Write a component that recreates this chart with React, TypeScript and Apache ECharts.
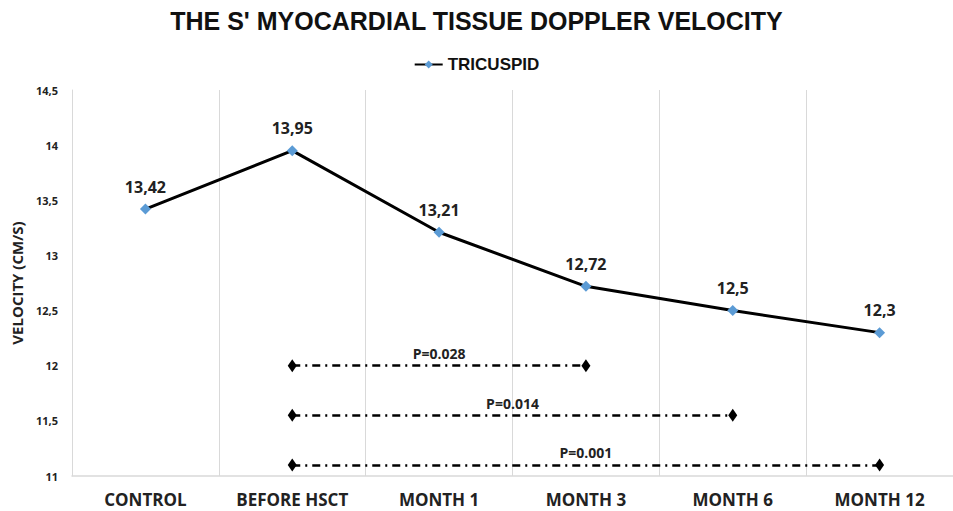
import React, { useEffect, useRef } from "react";
import * as echarts from "echarts";

const categories = ["CONTROL", "BEFORE HSCT", "MONTH 1", "MONTH 3", "MONTH 6", "MONTH 12"];
const tricuspid = [13.42, 13.95, 13.21, 12.72, 12.5, 12.3];
const pFrom = ["BEFORE HSCT", "BEFORE HSCT", "BEFORE HSCT"];
const pTo = ["MONTH 3", "MONTH 6", "MONTH 12"];
const pLevel = [12, 11.55, 11.1];
const pLabels = ["P=0.028", "P=0.014", "P=0.001"];

const fmt = (v: number) => String(v).replace(".", ",");

export default function App() {
  const ref = useRef<HTMLDivElement>(null);
  useEffect(() => {
    const chart = echarts.init(ref.current!, null, { renderer: "svg" });
    const markData = pLevel.map((lv, i) => [
      { coord: [pFrom[i], lv], symbolSize: [13, 9], label: { formatter: pLabels[i] } },
      { coord: [pTo[i], lv], symbolSize: [13, 9] },
    ]);
    chart.setOption({
      animation: false,
      backgroundColor: "#fff",
      title: {
        text: "THE S' MYOCARDIAL TISSUE DOPPLER VELOCITY",
        left: "center",
        top: 3,
        textStyle: { fontFamily: "Liberation Sans", fontWeight: "bold", fontSize: 25, color: "#111" },
      },
      legend: {
        top: 51,
        left: "center",
        itemWidth: 28,
        itemHeight: 10,
        itemGap: 4,
        textStyle: { fontFamily: "Liberation Sans", fontWeight: "bold", fontSize: 17, color: "#111" },
        data: ["TRICUSPID"],
      },
      grid: { left: 72, top: 90, bottom: 35, width: 891, containLabel: false },
      xAxis: {
        type: "category",
        data: categories,
        boundaryGap: true,
        axisLine: { lineStyle: { color: "#d9d9d9", width: 1.5 } },
        axisTick: { show: false },
        splitLine: { show: true, lineStyle: { color: "#d9d9d9", width: 1 } },
        axisLabel: {
          margin: 15,
          fontFamily: "Open Sans",
          fontWeight: "bold",
          fontSize: 17,
          color: "#222",
        },
      },
      yAxis: {
        type: "value",
        min: 11,
        max: 14.5,
        interval: 0.5,
        name: "VELOCITY (CM/S)",
        nameLocation: "middle",
        nameGap: 48,
        nameTextStyle: { fontFamily: "Open Sans", fontWeight: "bold", fontSize: 15, color: "#222" },
        axisLine: { show: true, lineStyle: { color: "#d9d9d9" } },
        axisTick: { show: false },
        splitLine: { show: false },
        axisLabel: {
          formatter: fmt,
          margin: 14,
          fontFamily: "Open Sans",
          fontWeight: "bold",
          fontSize: 11,
          color: "#222",
        },
      },
      series: [
        {
          name: "TRICUSPID",
          type: "line",
          data: tricuspid,
          symbol: "diamond",
          symbolSize: 11,
          itemStyle: { color: "#5b9bd5" },
          lineStyle: { color: "#000", width: 3 },
          label: {
            show: true,
            position: "top",
            distance: 9,
            formatter: (p: any) => fmt(p.value),
            fontFamily: "Open Sans",
            fontWeight: "bold",
            fontSize: 16,
            color: "#222",
          },
          markLine: {
            silent: true,
            symbol: ["diamond", "diamond"],
            lineStyle: { color: "#000", width: 2.5, type: [8, 5, 2, 5] },
            label: {
              show: true,
              position: "middle",
              distance: 5,
              fontFamily: "Open Sans",
              fontWeight: "bold",
              fontSize: 14,
              color: "#222",
            },
            emphasis: { disabled: true },
            data: markData,
          },
        },
      ],
    });
    return () => chart.dispose();
  }, []);
  return <div ref={ref} style={{ width: 953, height: 511, position: "absolute", left: 0, top: 0 }} />;
}
